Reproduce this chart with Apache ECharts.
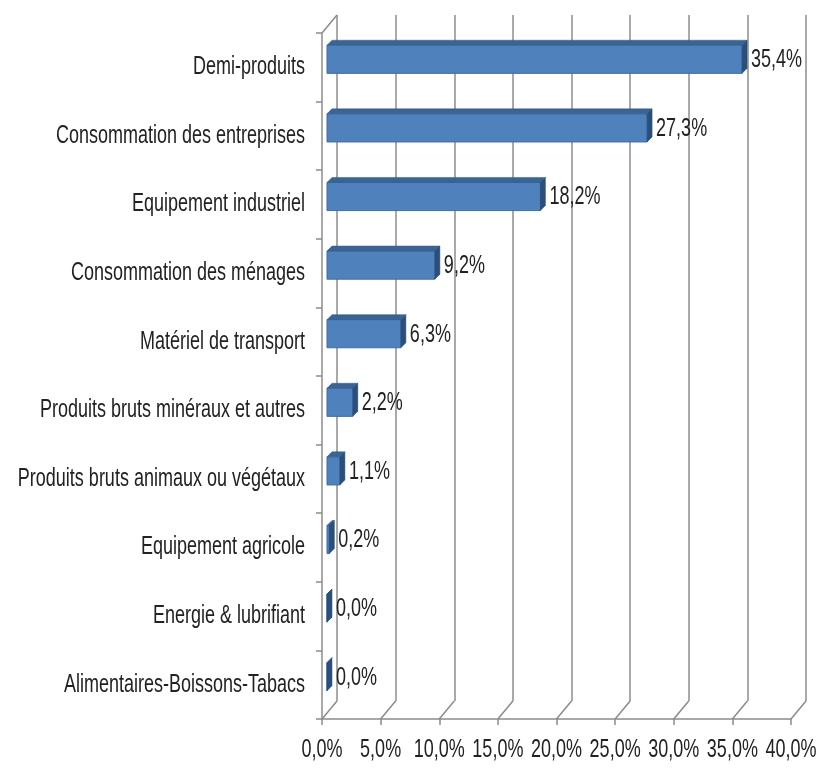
<!DOCTYPE html>
<html>
<head>
<meta charset="utf-8">
<script src="https://cdn.jsdelivr.net/npm/echarts@6/dist/echarts.min.js"></script>
<style>
  html, body { margin: 0; padding: 0; background: #fff; }
  #chart { width: 819px; height: 775px; }
</style>
</head>
<body>
<div id="chart"></div>
<script>
// categories top to bottom
const categories = [
  'Demi-produits',
  'Consommation des entreprises',
  'Equipement industriel',
  'Consommation des ménages',
  'Matériel de transport',
  'Produits bruts minéraux et autres',
  'Produits bruts animaux ou végétaux',
  'Equipement agricole',
  'Energie & lubrifiant',
  'Alimentaires-Boissons-Tabacs'
];
const shares = [35.4, 27.3, 18.2, 9.2, 6.3, 2.2, 1.1, 0.2, 0.0, 0.0];
const xTicks = [0, 5, 10, 15, 20, 25, 30, 35, 40];

// narrow look of the original text: big font squeezed horizontally
const FONT = '25px "Liberation Sans", Arial, sans-serif';
const SQUEEZE = 0.72;
const GRAY = '#8c8c8c';
const TXT = '#222';
// depth of the fake 3d box
const DX = 15, DY = 18;

const fmt = v => v.toFixed(1).replace('.', ',') + '%';

const label = (x, y, text, align) => ({
  type: 'text',
  x: x, y: y,
  scaleX: SQUEEZE,
  style: { x: 0, y: 0, text: text, fill: TXT, font: FONT, textAlign: align, textVerticalAlign: 'middle' }
});

const chart = echarts.init(document.getElementById('chart'));

const option = {
  animation: false,
  grid: [
    { left: 322, right: 28, top: 33, bottom: 56, outerBoundsMode: 'none' },
    { left: 322 + DX, right: 28 - DX, top: 33 - DY, bottom: 56 + DY, outerBoundsMode: 'none' }
  ],
  xAxis: [
    {
      type: 'value', min: 0, max: 40, interval: 5, gridIndex: 0,
      axisLine: { show: true, lineStyle: { color: GRAY, width: 1.5 } },
      axisTick: { show: true, length: 6, lineStyle: { color: GRAY, width: 1.5 } },
      axisLabel: { show: false },
      splitLine: { show: false }
    },
    {
      type: 'value', min: 0, max: 40, interval: 5, gridIndex: 1,
      axisLine: { show: false }, axisTick: { show: false }, axisLabel: { show: false },
      splitLine: { show: true, lineStyle: { color: GRAY, width: 1.5 } }
    }
  ],
  yAxis: [
    {
      type: 'category', data: categories, inverse: true, gridIndex: 0,
      axisLine: { show: true, lineStyle: { color: GRAY, width: 1.5 } },
      axisTick: { show: true, length: 6, lineStyle: { color: GRAY, width: 1.5 } },
      axisLabel: { show: false }
    },
    {
      type: 'category', data: categories, inverse: true, gridIndex: 1, show: false
    }
  ],
  series: [
    {
      // floor / wall edges of the box + x tick labels
      type: 'custom',
      xAxisIndex: 0, yAxisIndex: 0,
      silent: true, clip: false, z: 1,
      data: xTicks.map(t => [t, 0]),
      renderItem: (params, api) => {
        const cs = params.coordSys;
        const x = api.coord([api.value(0), 0])[0];
        const yb = cs.y + cs.height;
        const style = { stroke: GRAY, lineWidth: 1.5 };
        const children = [
          { type: 'line', shape: { x1: x, y1: yb, x2: x + DX, y2: yb - DY }, style },
          label(x, yb + 31, fmt(api.value(0)), 'center')
        ];
        if (api.value(0) === 0) {
          children.push({ type: 'line', shape: { x1: x, y1: cs.y, x2: x + DX, y2: cs.y - DY }, style });
        }
        return { type: 'group', children };
      }
    },
    {
      // category names
      type: 'custom',
      xAxisIndex: 0, yAxisIndex: 0,
      silent: true, clip: false, z: 2,
      data: categories.map((c, i) => [0, i]),
      renderItem: (params, api) => {
        const i = api.value(1);
        const p = api.coord([0, i]);
        return label(p[0] - 17, p[1], categories[i], 'right');
      }
    },
    {
      type: 'custom',
      xAxisIndex: 0, yAxisIndex: 0,
      clip: false, z: 5,
      encode: { x: 0, y: 1 },
      data: shares.map((v, i) => [v, i]),
      renderItem: (params, api) => {
        const v = api.value(0);
        const ci = api.value(1);
        const p0 = api.coord([0, ci]);
        const p1 = api.coord([v, ci]);
        const bh = api.size([0, 1])[1] * 0.41;
        const d = 5;
        const x0 = p0[0] + 5, x1 = p1[0] + 5;
        const yc = p0[1] - 8;
        const top = yc - bh / 2, bot = yc + bh / 2;
        return {
          type: 'group',
          children: [
            {
              type: 'rect',
              shape: { x: x0, y: top, width: x1 - x0, height: bh },
              style: { fill: '#4f81bd', stroke: '#3f6ea6', lineWidth: 1 }
            },
            {
              type: 'polygon',
              shape: { points: [[x0, top], [x0 + d, top - d], [x1 + d, top - d], [x1, top]] },
              style: { fill: '#3a6494', stroke: '#345a88', lineWidth: 0.5 }
            },
            {
              type: 'polygon',
              shape: { points: [[x1, top], [x1 + d, top - d], [x1 + d, bot - d], [x1, bot]] },
              style: { fill: '#2b4f7c', stroke: '#274871', lineWidth: 0.5 }
            },
            label(x1 + d + 4, yc + 1, fmt(v), 'left')
          ]
        };
      }
    }
  ]
};

chart.setOption(option);
</script>
</body>
</html>
